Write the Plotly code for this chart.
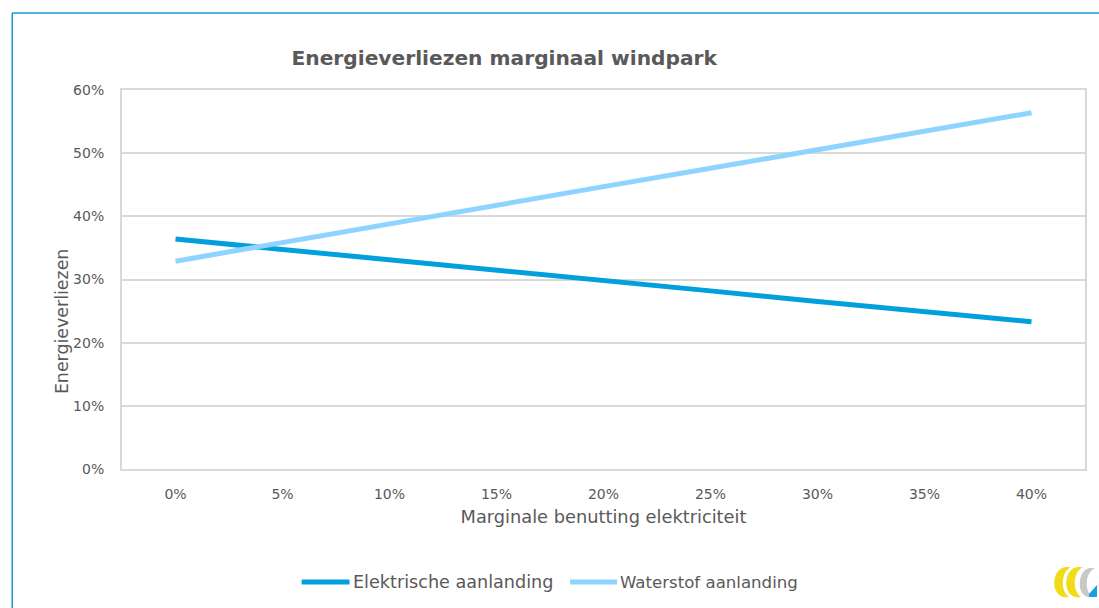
import plotly.graph_objects as go

# Marginal use of electricity (x categories) and energy losses (%)
categories = ["0%", "5%", "10%", "15%", "20%", "25%", "30%", "35%", "40%"]
elektrisch = [36.4, 34.8, 33.1, 31.5, 29.8, 28.2, 26.5, 24.9, 23.3]
waterstof = [32.9, 35.9, 38.8, 41.7, 44.7, 47.6, 50.5, 53.5, 56.4]
series_names = ["Elektrische aanlanding", "Waterstof aanlanding"]
y_ticks = [0, 10, 20, 30, 40, 50, 60]

W, H = 1099, 608
ML, MR, MT, MB = 122, 12, 90, 139
PW, PH = W - ML - MR, H - MT - MB

COL_EL = "#00a0dc"
COL_WS = "#8fd3ff"
TXT = "#595959"
GRID = "#d9d9d9"
FONT = "DejaVu Sans"


def px(x):
    return (x - ML) / PW


def py(y):
    return (H - MB - y) / PH


fig = go.Figure()
fig.add_trace(go.Scatter(x=categories, y=elektrisch, mode="lines", name=series_names[0],
                         line=dict(color=COL_EL, width=5), showlegend=False))
fig.add_trace(go.Scatter(x=categories, y=waterstof, mode="lines", name=series_names[1],
                         line=dict(color=COL_WS, width=5), showlegend=False))

shapes = [
    # outer frame (top and left edges)
    dict(type="line", xref="paper", yref="paper", x0=px(12), x1=px(1110), y0=py(13), y1=py(13),
         line=dict(color="#1e96d2", width=1.5)),
    dict(type="line", xref="paper", yref="paper", x0=px(12), x1=px(12), y0=py(13), y1=py(620),
         line=dict(color="#1e96d2", width=1.5)),
]

# legend drawn below the plot
legend_items = [(302, 350, COL_EL, series_names[0], 17.6), (571, 618, COL_WS, series_names[1], 16.6)]
annotations = []
for x0, x1, col, name, fs in legend_items:
    shapes.append(dict(type="line", xref="paper", yref="paper", x0=px(x0), x1=px(x1),
                       y0=py(582), y1=py(582), line=dict(color=col, width=5)))
    annotations.append(dict(text=name, xref="paper", yref="paper", x=px(x1 + 1), y=py(582),
                            xanchor="left", yanchor="middle", showarrow=False,
                            font=dict(family=FONT, size=fs, color=TXT)))

# small logo mark in the bottom right corner
logo_paths = [
    ("M 1068 567 C 1057 568 1054 582 1058 591 C 1061 597 1067 598 1071 597 "
     "C 1066 593 1064 587 1065 580 C 1066 573 1069 569 1073 567 Z", "#f0dc18"),
    ("M 1080 567 C 1069 568 1066 582 1070 591 C 1073 597 1079 598 1083 597 "
     "C 1078 593 1076 587 1077 580 C 1078 573 1081 569 1085 567 Z", "#f0dc18"),
    ("M 1092 568 C 1083 569 1080 582 1083 591 C 1085 596 1090 598 1094 597 "
     "C 1090 593 1088 587 1089 580 C 1090 574 1093 570 1097 568 Z", "#c8c8c8"),
    ("M 1091 594 L 1099 585 L 1099 597 L 1091 597 Z", "#1e9ee0"),
]
for p, col in logo_paths:
    toks = p.split()
    out = []
    i = 0
    # convert pixel path into paper coordinates
    while i < len(toks):
        t = toks[i]
        if t.isalpha():
            out.append(t)
            i += 1
        else:
            xv, yv = float(toks[i]), float(toks[i + 1])
            out.append(f"{px(xv):.5f},{py(yv):.5f}")
            i += 2
    shapes.append(dict(type="path", xref="paper", yref="paper", path=" ".join(out),
                       fillcolor=col, line=dict(width=0)))

annotations.append(dict(text="Energieverliezen", xref="paper", yref="paper", x=px(62), y=py(322),
                        textangle=-90, showarrow=False, xanchor="center", yanchor="middle",
                        font=dict(family=FONT, size=17.4, color=TXT)))

fig.update_layout(
    width=W, height=H,
    margin=dict(l=ML, r=MR, t=MT, b=MB),
    paper_bgcolor="white", plot_bgcolor="white",
    title=dict(text="<b>Energieverliezen marginaal windpark</b>", xref="paper", x=px(505),
               xanchor="center", y=1 - 58 / H, yanchor="middle",
               font=dict(family=FONT, size=20.2, color=TXT)),
    shapes=shapes, annotations=annotations,
    font=dict(family=FONT, color=TXT),
)
fig.update_xaxes(type="category", range=[-0.5, 8.5], showgrid=False,
                 showline=True, mirror=True, linecolor=GRID, linewidth=2,
                 ticks="", ticklabelstandoff=11,
                 tickfont=dict(family=FONT, size=14, color=TXT),
                 title=dict(text="Marginale benutting elektriciteit", standoff=10,
                            font=dict(family=FONT, size=17.8, color=TXT)))
fig.update_yaxes(range=[0, 60], tickvals=y_ticks, ticktext=[f"{v}%" for v in y_ticks],
                 showgrid=True, gridcolor=GRID, gridwidth=2,
                 showline=True, mirror=True, linecolor=GRID, linewidth=2,
                 zeroline=False, ticks="", ticklabelstandoff=13,
                 tickfont=dict(family=FONT, size=14, color=TXT))

fig.write_html("out.html")
